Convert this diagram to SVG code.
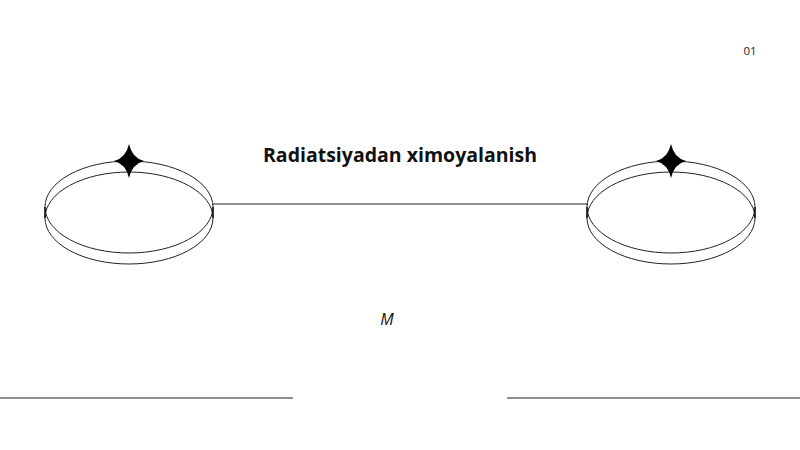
<svg xmlns="http://www.w3.org/2000/svg" width="800" height="450" viewBox="0 0 800 450">
  <defs>
    <style>
      .ring { fill: none; stroke: #222; stroke-width: 1; }
      .edge { stroke: #111; stroke-width: 1.6; }
      .conn { stroke: #222; stroke-width: 1.2; fill: none; }
      .star { fill: #000; }
      .title { font-family: "Open Sans", "Noto Sans", sans-serif; font-weight: 700; font-size: 19.5px; fill: #111; }
      .label { font-family: "Open Sans", "Noto Sans", sans-serif; font-style: italic; font-size: 16px; fill: #111; }
      .page { font-family: "Open Sans", "Noto Sans", sans-serif; font-size: 11.5px; fill: #222; }
    </style>
    <path id="starShape" d="M0,-17 Q3,-3 15,0 Q3,3 0,17 Q-3,3 -15,0 Q-3,-3 0,-17 Z"/>
  </defs>
  <rect width="800" height="450" fill="#fff"/>

  <g id="connectors">
    <line class="conn" x1="213" y1="204" x2="588" y2="204"/>
    <line class="conn" x1="0" y1="398" x2="293" y2="398"/>
    <line class="conn" x1="507" y1="398" x2="800" y2="398"/>
  </g>

  <g id="node-left">
    <ellipse class="ring" cx="129" cy="207" rx="84" ry="46"/>
    <ellipse class="ring" cx="129" cy="218" rx="84" ry="46"/>
    <line class="edge" x1="45" y1="207" x2="45" y2="218"/>
    <line class="edge" x1="213" y1="207" x2="213" y2="218"/>
    <use href="#starShape" class="star" x="129" y="161"/>
  </g>

  <g id="node-right">
    <ellipse class="ring" cx="671" cy="207" rx="84" ry="46"/>
    <ellipse class="ring" cx="671" cy="218" rx="84" ry="46"/>
    <line class="edge" x1="587" y1="207" x2="587" y2="218"/>
    <line class="edge" x1="755" y1="207" x2="755" y2="218"/>
    <use href="#starShape" class="star" x="671" y="161"/>
  </g>

  <g id="title">
    <text class="title" x="400" y="162" text-anchor="middle">Radiatsiyadan ximoyalanish</text>
  </g>
  <g id="label-m">
    <text class="label" x="387" y="325" text-anchor="middle">M</text>
  </g>
  <g id="page-number">
    <text class="page" x="750" y="55" text-anchor="middle">01</text>
  </g>
</svg>
